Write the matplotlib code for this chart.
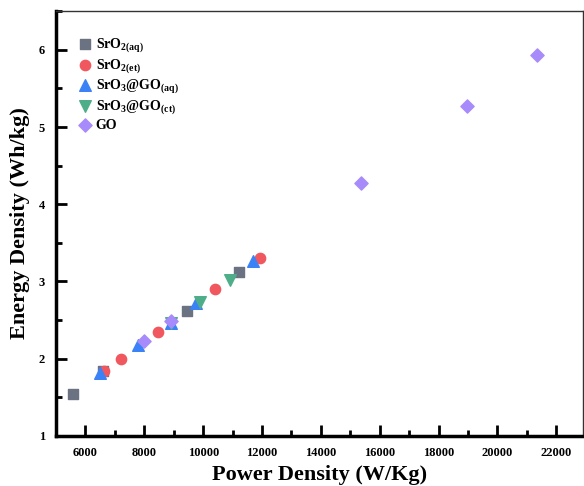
import matplotlib
matplotlib.use('Agg')
import matplotlib.pyplot as plt
from matplotlib.ticker import MultipleLocator

plt.rcParams['font.family'] = 'Liberation Serif'
plt.rcParams['font.weight'] = 'bold'
plt.rcParams['mathtext.fontset'] = 'custom'
plt.rcParams['mathtext.rm'] = 'Liberation Serif:bold'
plt.rcParams['mathtext.it'] = 'Liberation Serif:bold'
plt.rcParams['mathtext.bf'] = 'Liberation Serif:bold'

# SrO2 (aq)
sro2_aq_x = [5570, 6610, 9440, 11220]
sro2_aq_y = [1.54, 1.84, 2.62, 3.12]
# SrO2 (et)
sro2_et_x = [6620, 7200, 8450, 10410, 11920]
sro2_et_y = [1.84, 2.00, 2.35, 2.90, 3.31]
# SrO3@GO (aq)
go_aq_x = [6480, 7780, 8900, 9740, 11700]
go_aq_y = [1.82, 2.18, 2.46, 2.72, 3.27]
# SrO3@GO (ct)
go_ct_x = [8920, 9900, 10900]
go_ct_y = [2.46, 2.74, 3.02]
# GO
go_x = [8000, 8920, 15360, 18960, 21340]
go_y = [2.23, 2.49, 4.27, 5.27, 5.93]

fig = plt.figure(figsize=(5.84, 4.86), dpi=100)
ax = fig.add_axes([0.096, 0.103, 0.902, 0.874])

ax.scatter(sro2_aq_x, sro2_aq_y, marker='s', s=45, color='#6b7383', label='SrO$_{2(aq)}$', zorder=3)
ax.scatter(sro2_et_x, sro2_et_y, marker='o', s=55, color='#f0575f', label='SrO$_{2(et)}$', zorder=3)
ax.scatter(go_aq_x, go_aq_y, marker='^', s=70, color='#3b82f6', label='SrO$_3$@GO$_{(aq)}$', zorder=3)
ax.scatter(go_ct_x, go_ct_y, marker='v', s=70, color='#4fae8a', label='SrO$_3$@GO$_{(ct)}$', zorder=3)
ax.scatter(go_x, go_y, marker='D', s=45, color='#a78bfa', label='GO', zorder=4)

ax.set_xlim(5000, 22900)
ax.set_ylim(1, 6.5)
ax.xaxis.set_major_locator(MultipleLocator(2000))
ax.xaxis.set_minor_locator(MultipleLocator(1000))
ax.yaxis.set_major_locator(MultipleLocator(1))
ax.yaxis.set_minor_locator(MultipleLocator(0.5))
ax.tick_params(which='major', direction='in', length=8, width=2, labelsize=9)
ax.tick_params(which='minor', direction='in', length=4, width=2)
ax.tick_params(axis='x', pad=8)
ax.tick_params(axis='y', pad=8)

for s in ['left', 'bottom']:
    ax.spines[s].set_linewidth(2.5)
for s in ['top', 'right']:
    ax.spines[s].set_linewidth(1)
    ax.spines[s].set_color('#333333')

ax.set_xlabel('Power Density (W/Kg)', fontsize=16, fontweight='bold', labelpad=4)
ax.set_ylabel('Energy Density (Wh/kg)', fontsize=16, fontweight='bold', labelpad=6)

ax.legend(loc='upper left', bbox_to_anchor=(0.02, 0.96), frameon=False, fontsize=10,
          handletextpad=0.0, labelspacing=0.2, borderaxespad=0.2, handlelength=1.5)

fig.savefig('out.png', dpi=100)
